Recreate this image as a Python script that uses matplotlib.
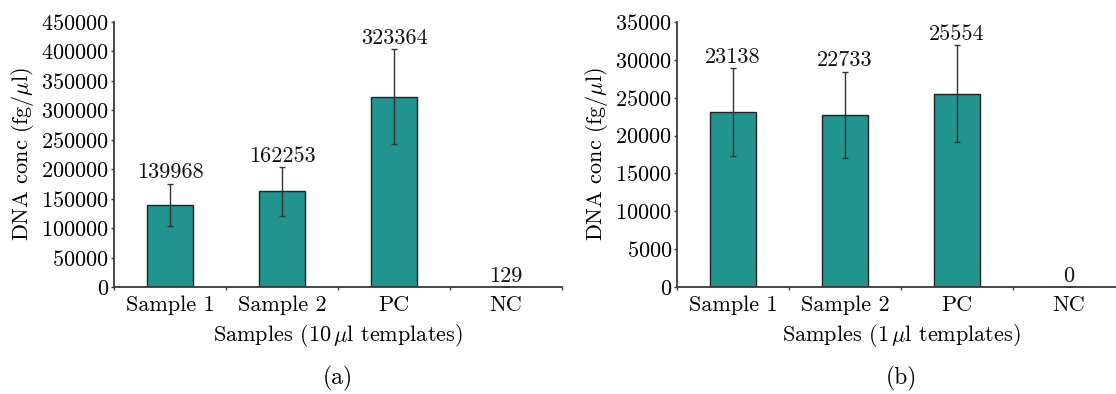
import matplotlib
matplotlib.use("Agg")
import matplotlib.pyplot as plt
import numpy as np

plt.rcParams["font.family"] = "serif"
plt.rcParams["font.serif"] = ["cmr10"]
plt.rcParams["mathtext.fontset"] = "cm"
plt.rcParams["axes.formatter.use_mathtext"] = True

categories = ["Sample 1", "Sample 2", "PC", "NC"]

conc_10ul = [139968, 162253, 323364, 129]
err_10ul = [35700, 41000, 80600, 0]

conc_1ul = [23138, 22733, 25554, 0]
err_1ul = [5800, 5700, 6400, 0]

bar_color = "#21948f"
axis_color = "#3a3a3a"
fs = 16

fig = plt.figure(figsize=(11.16, 3.94), dpi=100)
ax_a = fig.add_axes([114 / 1116, 1 - 287 / 394, 448 / 1116, 265 / 394])
ax_b = fig.add_axes([677 / 1116, 1 - 287 / 394, 448 / 1116, 265 / 394])


def draw_panel(ax, values, errors, ymax, ystep, xlabel, tag):
    x = np.arange(len(categories))
    ax.bar(x, values, width=0.41, color=bar_color, edgecolor="#222222",
           linewidth=1.0, zorder=2)
    ax.errorbar(x, values, yerr=errors, fmt="none", ecolor="#333333",
                elinewidth=1.0, capsize=2.5, capthick=1.0, zorder=3)
    for xi, v, e in zip(x, values, errors):
        ax.annotate(f"{v}", (xi, v + e), xytext=(0, 1),
                    textcoords="offset points", ha="center", va="bottom",
                    fontsize=fs, color="#111111")
    ax.set_xlim(-0.5, len(categories) - 0.5)
    ax.set_ylim(0, ymax)
    ax.set_yticks(np.arange(0, ymax + 1, ystep))
    ax.set_xticks(x)
    ax.set_xticklabels(categories)
    ax.set_xticks(np.arange(-0.5, len(categories) - 0.4, 1.0), minor=True)
    ax.tick_params(axis="x", which="major", length=0, pad=6, labelsize=fs)
    ax.tick_params(axis="x", which="minor", length=2.5, direction="out",
                   color=axis_color, width=1.0)
    ax.tick_params(axis="y", length=2.5, direction="out", color=axis_color,
                   width=1.0, labelsize=fs, pad=1)
    for s in ("top", "right"):
        ax.spines[s].set_visible(False)
    for s in ("left", "bottom"):
        ax.spines[s].set_color(axis_color)
        ax.spines[s].set_linewidth(1.3)
    ax.set_ylabel(r"DNA conc (fg/$\mu$l)", fontsize=fs, labelpad=4)
    ax.set_xlabel(xlabel, fontsize=fs, labelpad=5)
    ax.text(0.5, -0.345, tag, transform=ax.transAxes, ha="center",
            va="center", fontsize=fs + 1)


draw_panel(ax_a, conc_10ul, err_10ul, 450000, 50000,
           r"Samples (10$\,\mu$l templates)", "(a)")
draw_panel(ax_b, conc_1ul, err_1ul, 35000, 5000,
           r"Samples (1$\,\mu$l templates)", "(b)")

fig.savefig("out.png", dpi=100)
